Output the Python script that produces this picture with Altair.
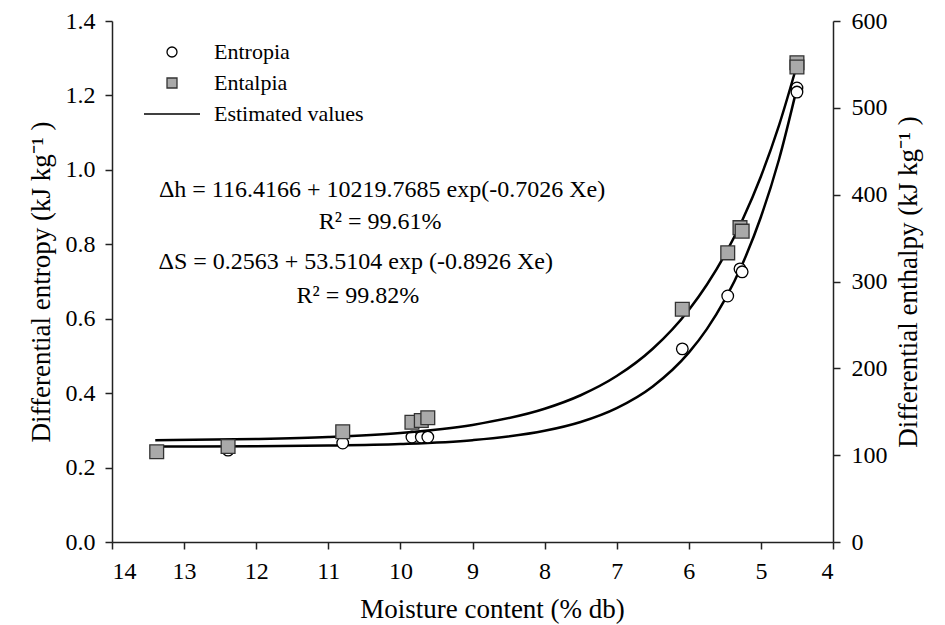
import altair as alt
import pandas as pd

# ---- data ----
moisture = [13.38, 12.39, 10.80, 9.84, 9.71, 9.62, 6.09, 5.46, 5.29, 5.26, 4.50, 4.50]
entropy = [0.242, 0.247, 0.266, 0.282, 0.282, 0.282, 0.519, 0.661, 0.734, 0.726, 1.220, 1.209]
enthalpy = [104, 110, 127, 138, 140, 143, 268, 333, 362, 358, 552, 547]

fit_moisture = [13.4, 12, 11, 10, 9, 8, 7.5, 7, 6.5, 6, 5.75, 5.5, 5.25, 5, 4.75, 4.5]
fit_enthalpy = [117.2, 118.6, 120.9, 125.5, 134.8, 153.4, 169.0, 191.1, 222.6, 267.3,
                296.3, 330.7, 372.0, 421.0, 479.5, 549.3]
fit_entropy = [0.2566, 0.2575, 0.2592, 0.2634, 0.2737, 0.2987, 0.3225, 0.3598, 0.4180,
               0.5089, 0.5721, 0.6511, 0.7498, 0.8733, 1.0272, 1.2202]

series_names = ["Entropia", "Entalpia", "Estimated values"]
x_ticks = [4, 5, 6, 7, 8, 9, 10, 11, 12, 13, 14]
left_ticks = [0.0, 0.2, 0.4, 0.6, 0.8, 1.0, 1.2, 1.4]
right_ticks = [0, 100, 200, 300, 400, 500, 600]

eq_h = "\u0394h = 116.4166 + 10219.7685 exp(-0.7026 Xe)"
r2_h = "R\u00b2 = 99.61%"
eq_s = "\u0394S = 0.2563 + 53.5104 exp (-0.8926 Xe)"
r2_s = "R\u00b2 = 99.82%"

FONT = "Liberation Serif"

pts_s = pd.DataFrame({"x": moisture, "y": entropy, "series": "Entropia"})
pts_h = pd.DataFrame({"x": moisture, "y": enthalpy, "series": "Entalpia"})
fit_s = pd.DataFrame({"x": fit_moisture, "y": fit_entropy})
fit_h = pd.DataFrame({"x": fit_moisture, "y": fit_enthalpy})

common_axis = dict(labelFont=FONT, titleFont=FONT, labelFontSize=24, titleFontSize=27,
                   titleFontWeight="normal", labelColor="black", titleColor="black")

x_enc = alt.X(
    "x:Q",
    scale=alt.Scale(domain=[4, 14], reverse=True, nice=False, zero=False),
    axis=alt.Axis(values=x_ticks, format="d", title="Moisture content (% db)",
                  labelPadding=10, titlePadding=13, titleX=380, **common_axis),
)

legend = alt.Legend(
    title=None, orient="none", legendX=49, legendY=20, labelFont=FONT,
    labelFontSize=22, labelColor="black", labelOffset=31, symbolSize=100,
    rowPadding=9, padding=0,
)
shape = alt.Shape("series:N", scale=alt.Scale(domain=series_names,
                  range=["circle", "square", "M-5.6,0L5.6,0"]), legend=legend)
fill = alt.Fill("series:N", scale=alt.Scale(domain=series_names,
                range=["white", "#a9a9a9", "transparent"]), legend=legend)
stroke = alt.Stroke("series:N", scale=alt.Scale(domain=series_names,
                    range=["black", "#333333", "black"]), legend=legend)
swidth = alt.StrokeWidth("series:N", scale=alt.Scale(domain=series_names,
                         range=[1.3, 1.3, 2.5]), legend=legend)

y_left = alt.Y(
    "y:Q", scale=alt.Scale(domain=[0, 1.4], nice=False),
    axis=alt.Axis(orient="left", values=left_ticks, format=".1f",
                  title="Differential entropy  (kJ kg\u207b\u00b9 )", labelPadding=10,
                  titlePadding=10, **common_axis),
)
y_right = alt.Y(
    "y:Q", scale=alt.Scale(domain=[0, 600], nice=False),
    axis=alt.Axis(orient="right", values=right_ticks, format="d",
                  title="Differential enthalpy (kJ kg\u207b\u00b9 )", titleAngle=270,
                  titleBaseline="top", labelPadding=11, titlePadding=8, **common_axis),
)

line_s = alt.Chart(fit_s).mark_line(color="black", strokeWidth=2.5, interpolate="monotone").encode(
    x=x_enc, y=y_left)
point_s = alt.Chart(pts_s).mark_point(filled=True, opacity=1, size=135).encode(
    x=x_enc, y=y_left, shape=shape, fill=fill, stroke=stroke, strokeWidth=swidth)


def label(txt, xv, yv):
    return alt.Chart(pd.DataFrame({"t": [txt]})).mark_text(
        font=FONT, fontSize=24, color="black", align="center", baseline="middle"
    ).encode(x=alt.datum(xv), y=alt.datum(yv), text="t:N")


texts = [label(eq_h, 10.255, 0.946), label(r2_h, 10.28, 0.860),
         label(eq_s, 10.62, 0.752), label(r2_s, 10.59, 0.661)]

left = alt.layer(line_s, point_s, *texts)

line_h = alt.Chart(fit_h).mark_line(color="black", strokeWidth=2.5, interpolate="monotone").encode(
    x=x_enc, y=y_right)
point_h = alt.Chart(pts_h).mark_point(filled=True, opacity=1, size=190).encode(
    x=x_enc, y=y_right, shape=shape, fill=fill, stroke=stroke, strokeWidth=swidth)
right = alt.layer(line_h, point_h)

chart = (
    alt.layer(left, right)
    .resolve_scale(y="independent")
    .properties(width=721, height=521, autosize=alt.AutoSizeParams(type="none"),
                padding={"left": 112, "top": 21, "right": 112, "bottom": 83})
    .configure_view(stroke=None)
    .configure_axis(
        labelFont=FONT, titleFont=FONT,
        domainColor="#222222", tickColor="#222222", tickSize=7, domainWidth=1.5,
        tickWidth=1.5, grid=False,
    )
)

chart.save("out.html", embed_options={"renderer": "svg", "actions": False})
